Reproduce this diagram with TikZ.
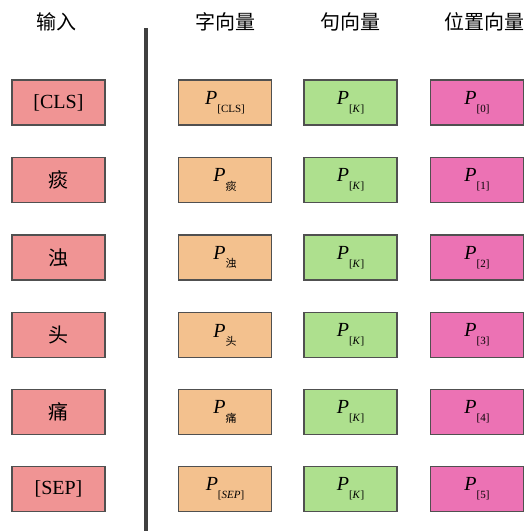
\documentclass[tikz,border=0pt]{standalone}
\usepackage{fontspec}
\setmainfont{Liberation Serif}
\newfontfamily\cjk{Noto Sans CJK SC}
\definecolor{cred}{RGB}{240,148,148}
\definecolor{corange}{RGB}{243,193,142}
\definecolor{cgreen}{RGB}{174,224,142}
\definecolor{cpink}{RGB}{236,114,180}
\definecolor{cborder}{RGB}{80,80,80}
\newcommand{\Pv}[1]{{\fontsize{20}{20}\selectfont\itshape P}\raisebox{-0.9ex}{\fontsize{11}{11}\selectfont #1}}
\tikzset{
  vbox/.style={draw=cborder, line width=1.3pt, minimum width=93pt, minimum height=45pt, inner sep=0pt, font=\fontsize{20}{20}\selectfont},
  inbox/.style={vbox, fill=cred},
  wbox/.style={vbox, fill=corange},
  sbox/.style={vbox, fill=cgreen},
  pbox/.style={vbox, fill=cpink},
  head/.style={font=\cjk\fontsize{20}{20}\selectfont, inner sep=0pt}
}
\begin{document}
\begin{tikzpicture}[x=1pt,y=-1pt]
\useasboundingbox (0,0) rectangle (525,531);
\node[head] (h1) at (57,22) {输入};
\node[head] (h2) at (225,22) {字向量};
\node[head] (h3) at (350,22) {句向量};
\node[head] (h4) at (484,22) {位置向量};
\coordinate (ltop) at (145.5,28);
\coordinate (lbot) at (145.5,531);
\draw[line width=4pt, draw=black!75] (ltop) -- (lbot);
% rows
\foreach \i/\y/\tok/\ws/\ps in {
  1/102.5/{[CLS]}/{[CLS]}/{[0]},
  2/180/{\cjk 痰}/{\cjk 痰}/{[1]},
  3/257.5/{\cjk 浊}/{\cjk 浊}/{[2]},
  4/335/{\cjk 头}/{\cjk 头}/{[3]},
  5/412/{\cjk 痛}/{\cjk 痛}/{[4]},
  6/489/{[SEP]}/{[\textit{SEP}]}/{[5]}} {
  \node[inbox] (in\i) at (58.5,\y) {\tok};
  \node[wbox] (w\i) at (225,\y) {\Pv{\ws}};
  \node[sbox] (s\i) at (350.5,\y) {\Pv{[\textit{K}]}};
  \node[pbox] (p\i) at (477,\y) {\Pv{\ps}};
}
\end{tikzpicture}
\end{document}
